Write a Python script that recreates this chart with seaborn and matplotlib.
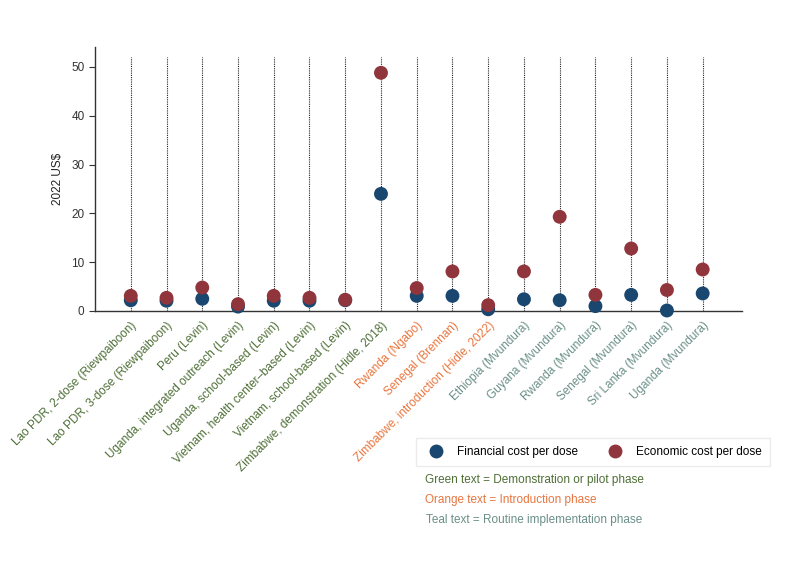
import pandas as pd
import matplotlib
matplotlib.use('Agg')
import matplotlib.pyplot as plt
import seaborn as sns

studies = ['Lao PDR, 2-dose (Riewpaiboon)', 'Lao PDR, 3-dose (Riewpaiboon)', 'Peru (Levin)',
           'Uganda, integrated outreach (Levin)', 'Uganda, school-based (Levin)',
           'Vietnam, health center–based (Levin)', 'Vietnam, school-based (Levin)',
           'Zimbabwe, demonstration (Hidle, 2018)', 'Rwanda (Ngabo)', 'Senegal (Brennan)',
           'Zimbabwe, introduction (Hidle, 2022)', 'Ethiopia (Mvundura)', 'Guyana (Mvundura)',
           'Rwanda (Mvundura)', 'Senegal (Mvundura)', 'Sri Lanka (Mvundura)', 'Uganda (Mvundura)']
phase = ['demo'] * 8 + ['intro'] * 3 + ['routine'] * 6
financial = [2.2, 2.1, 2.5, 0.9, 2.1, 2.1, 2.2, 24.0, 3.1, 3.1, 0.35, 2.4, 2.2, 1.0, 3.3, 0.1, 3.6]
economic = [3.1, 2.7, 4.8, 1.4, 3.1, 2.7, 2.3, 48.8, 4.7, 8.1, 1.2, 8.1, 19.3, 3.3, 12.8, 4.3, 8.5]

phase_colors = {'demo': '#4e6f36', 'intro': '#e8753e', 'routine': '#6a8f87'}
cost_colors = {'Financial cost per dose': '#1a476f', 'Economic cost per dose': '#90353b'}

n = len(studies)
df = pd.concat([
    pd.DataFrame({'x': range(n), 'cost': financial, 'type': 'Financial cost per dose'}),
    pd.DataFrame({'x': range(n), 'cost': economic, 'type': 'Economic cost per dose'}),
])

plt.rcParams['font.family'] = ['Liberation Sans', 'DejaVu Sans']
fig = plt.figure(figsize=(7.88, 5.74), dpi=100)
ax = fig.add_axes([0.1206, 0.4582, 0.821, 0.46])

ax.vlines(range(n), 0, 52, colors='#222222', linestyles=(0, (1, 1)), linewidth=0.8, zorder=1)
sns.scatterplot(data=df, x='x', y='cost', hue='type', palette=cost_colors, s=100,
                edgecolor='none', ax=ax, zorder=3, clip_on=False)

ax.set_xlim(-1, n + 0.1)
ax.set_ylim(0, 54.1)
ax.set_yticks([0, 10, 20, 30, 40, 50])
ax.set_xticks(range(n))
ax.set_xticklabels(studies, rotation=45, ha='right', rotation_mode='anchor', fontsize=8.5)
for lbl, ph in zip(ax.get_xticklabels(), phase):
    lbl.set_color(phase_colors[ph])
ax.tick_params(axis='x', length=0, pad=6)
ax.tick_params(axis='y', labelsize=8.5, length=4, color='#333333', labelcolor='#333333')
ax.set_xlabel('')
ax.set_ylabel('2022 US$', fontsize=8.5, color='#222222', labelpad=5)
for side in ['top', 'right']:
    ax.spines[side].set_visible(False)
for side in ['left', 'bottom']:
    ax.spines[side].set_color('#333333')
    ax.spines[side].set_linewidth(1.0)

handles, labels = ax.get_legend_handles_labels()
ax.legend(handles, labels, loc='center', bbox_to_anchor=(0.7525, 0.2125),
          bbox_transform=fig.transFigure, ncol=2, fontsize=8.5, frameon=True,
          fancybox=False, edgecolor='#e6e6e6', columnspacing=2.1, handletextpad=0.8,
          markerscale=1.0, borderpad=0.7)

fig.text(0.539, 0.1638, 'Green text = Demonstration or pilot phase', color=phase_colors['demo'],
         fontsize=8.5, va='center')
fig.text(0.539, 0.129, 'Orange text = Introduction phase', color=phase_colors['intro'],
         fontsize=8.5, va='center')
fig.text(0.541, 0.094, 'Teal text = Routine implementation phase', color=phase_colors['routine'],
         fontsize=8.5, va='center')

fig.savefig('out.png', dpi=100)
